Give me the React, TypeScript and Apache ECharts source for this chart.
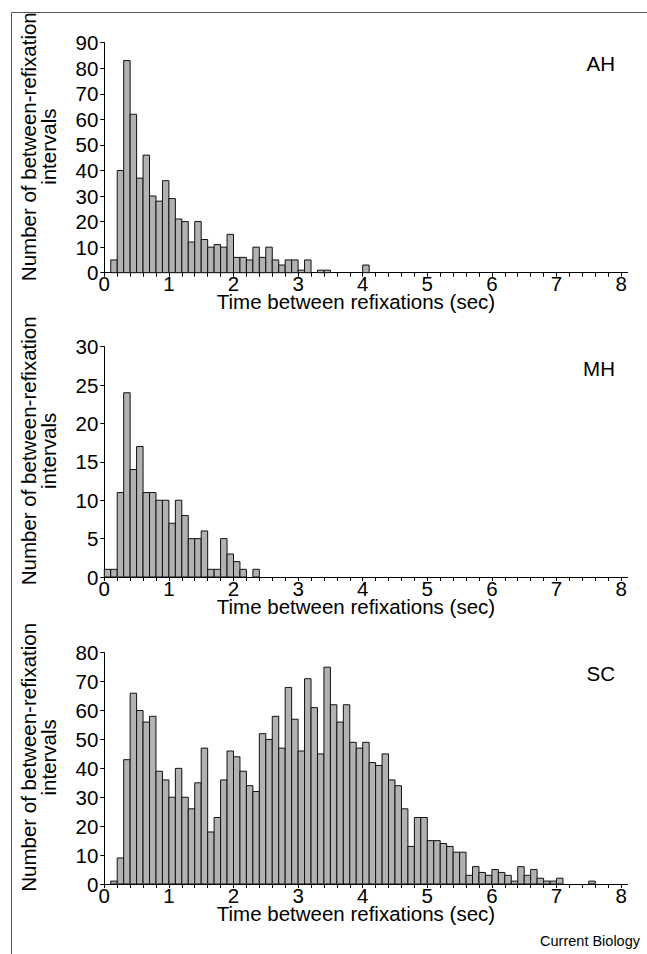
import React, { useEffect, useRef } from "react";
import * as echarts from "echarts";

const BIN_WIDTH = 0.1;
const X_MAJOR_TICKS = [0, 1, 2, 3, 4, 5, 6, 7, 8];
const X_MINOR_TICKS = [
  0, 0.2, 0.4, 0.6, 0.8, 1, 1.2, 1.4, 1.6, 1.8, 2, 2.2, 2.4, 2.6, 2.8, 3, 3.2, 3.4, 3.6, 3.8,
  4, 4.2, 4.4, 4.6, 4.8, 5, 5.2, 5.4, 5.6, 5.8, 6, 6.2, 6.4, 6.6, 6.8, 7, 7.2, 7.4, 7.6, 7.8, 8,
];

// counts per 0.1 s bin, bins starting at 0.0, 0.1, ... 7.9
const AH_COUNTS = [
  0, 5, 40, 83, 62, 37, 46, 30, 28, 36,
  29, 21, 20, 12, 20, 13, 10, 11, 10, 15,
  6, 6, 5, 10, 6, 10, 5, 3, 5, 5,
  1, 5, 0, 1, 1, 0, 0, 0, 0, 0,
  3, 0, 0, 0, 0, 0, 0, 0, 0, 0,
  0, 0, 0, 0, 0, 0, 0, 0, 0, 0,
  0, 0, 0, 0, 0, 0, 0, 0, 0, 0,
  0, 0, 0, 0, 0, 0, 0, 0, 0, 0,
];
const MH_COUNTS = [
  1, 1, 11, 24, 14, 17, 11, 11, 10, 10,
  7, 10, 8, 5, 5, 6, 1, 1, 5, 3,
  2, 1, 0, 1, 0, 0, 0, 0, 0, 0,
  0, 0, 0, 0, 0, 0, 0, 0, 0, 0,
  0, 0, 0, 0, 0, 0, 0, 0, 0, 0,
  0, 0, 0, 0, 0, 0, 0, 0, 0, 0,
  0, 0, 0, 0, 0, 0, 0, 0, 0, 0,
  0, 0, 0, 0, 0, 0, 0, 0, 0, 0,
];
const SC_COUNTS = [
  0, 1, 9, 43, 66, 60, 56, 58, 39, 36,
  30, 40, 30, 26, 35, 47, 18, 23, 36, 46,
  44, 39, 34, 32, 52, 50, 58, 47, 68, 57,
  46, 71, 61, 45, 75, 62, 56, 62, 49, 47,
  49, 42, 41, 45, 36, 34, 26, 13, 23, 23,
  15, 15, 14, 13, 11, 11, 3, 6, 4, 3,
  5, 4, 3, 1, 6, 3, 5, 2, 1, 1,
  2, 0, 0, 0, 0, 1, 0, 0, 0, 0,
];

const PANELS = [
  { label: "AH", counts: AH_COUNTS, yMax: 90, yInterval: 10 },
  { label: "MH", counts: MH_COUNTS, yMax: 30, yInterval: 5 },
  { label: "SC", counts: SC_COUNTS, yMax: 80, yInterval: 10 },
];

const X_TITLE = "Time between refixations (sec)";
const Y_TITLE = "Number of between-refixation\nintervals";
const CREDIT = "Current Biology";

const FONT = "'Liberation Sans', Arial, Helvetica, sans-serif";
const FS = 20.5;

export default function App() {
  const ref = useRef<HTMLDivElement>(null);

  useEffect(() => {
    if (!ref.current) return;
    const chart = echarts.init(ref.current, null, { renderer: "svg" });

    const gridTops = [42.7, 346.7, 652.7];
    const gridHeights = [230, 230.3, 231.3];
    const unit = 64.6;
    const xMax = 8.1;

    const grids = PANELS.map((_, i) => ({
      left: 104.3,
      top: gridTops[i],
      width: unit * xMax,
      height: gridHeights[i],
    }));

    const xAxes = PANELS.map((_, i) => ({
      type: "value",
      gridIndex: i,
      min: 0,
      max: xMax,
      interval: 0.2,
      splitLine: { show: false },
      axisLine: { show: true, lineStyle: { color: "#000", width: 1 } },
      axisTick: {
        show: true,
        inside: false,
        length: 4,
        lineStyle: { color: "#000" },
        customValues: X_MINOR_TICKS,
      },
      axisLabel: {
        show: true,
        margin: 3,
        color: "#000",
        fontSize: FS,
        lineHeight: 16,
        fontFamily: FONT,
        customValues: X_MAJOR_TICKS,
        formatter: (v: number) => (Math.abs(v - Math.round(v)) < 1e-6 && v <= 8 ? String(Math.round(v)) : ""),
      },
      name: X_TITLE,
      nameLocation: "middle",
      nameGap: 20,
      nameMoveOverlap: false,
      nameTextStyle: { color: "#000", fontSize: FS, lineHeight: 18, fontFamily: FONT, padding: [0, 20, 0, 0] },
    }));

    const yAxes = PANELS.map((p, i) => ({
      type: "value",
      gridIndex: i,
      min: 0,
      max: p.yMax,
      interval: p.yInterval,
      splitLine: { show: false },
      axisLine: { show: true, lineStyle: { color: "#000", width: 1 } },
      axisTick: { show: true, inside: false, length: 4, lineStyle: { color: "#000" } },
      axisLabel: { margin: 6, color: "#000", fontSize: FS, fontFamily: FONT },
      name: Y_TITLE,
      nameLocation: "middle",
      nameRotate: 90,
      nameGap: 46,
      nameMoveOverlap: false,
      nameTextStyle: {
        color: "#000",
        fontSize: FS,
        lineHeight: 20,
        fontFamily: FONT,
        align: "center",
        padding: [0, 0, 0, 22],
      },
    }));

    const series = PANELS.map((p, i) => ({
      type: "custom",
      xAxisIndex: i,
      yAxisIndex: i,
      data: p.counts.map((c, k) => [k * BIN_WIDTH, c]),
      renderItem: (_params: any, api: any) => {
        const x0 = api.value(0);
        const v = api.value(1);
        if (!v) return null;
        const a = api.coord([x0, v]);
        const b = api.coord([x0 + BIN_WIDTH, 0]);
        return {
          type: "rect",
          shape: { x: a[0], y: a[1], width: b[0] - a[0], height: b[1] - a[1] },
          style: { fill: "#b2b2b2", stroke: "#111", lineWidth: 1 },
        };
      },
    }));

    const labelYs = [63, 368, 673];
    const graphics: any[] = [
      { type: "line", shape: { x1: 11.5, y1: 12.5, x2: 647, y2: 12.5 }, style: { stroke: "#555", lineWidth: 1 } },
      { type: "line", shape: { x1: 11.5, y1: 12.5, x2: 11.5, y2: 954 }, style: { stroke: "#555", lineWidth: 1 } },
      ...PANELS.map((p, i) => ({
        type: "text",
        x: 615,
        y: labelYs[i],
        style: { text: p.label, fill: "#000", fontSize: FS, fontFamily: FONT, align: "right", verticalAlign: "middle" },
      })),
      {
        type: "text",
        x: 640,
        y: 941,
        style: { text: CREDIT, fill: "#000", fontSize: 14.5, fontFamily: FONT, align: "right", verticalAlign: "middle" },
      },
    ];

    chart.setOption({
      animation: false,
      backgroundColor: "#fff",
      grid: grids,
      xAxis: xAxes,
      yAxis: yAxes,
      series,
      graphic: graphics,
    });

    return () => chart.dispose();
  }, []);

  return <div ref={ref} style={{ position: "fixed", left: 0, top: 0, width: 647, height: 954 }} />;
}
